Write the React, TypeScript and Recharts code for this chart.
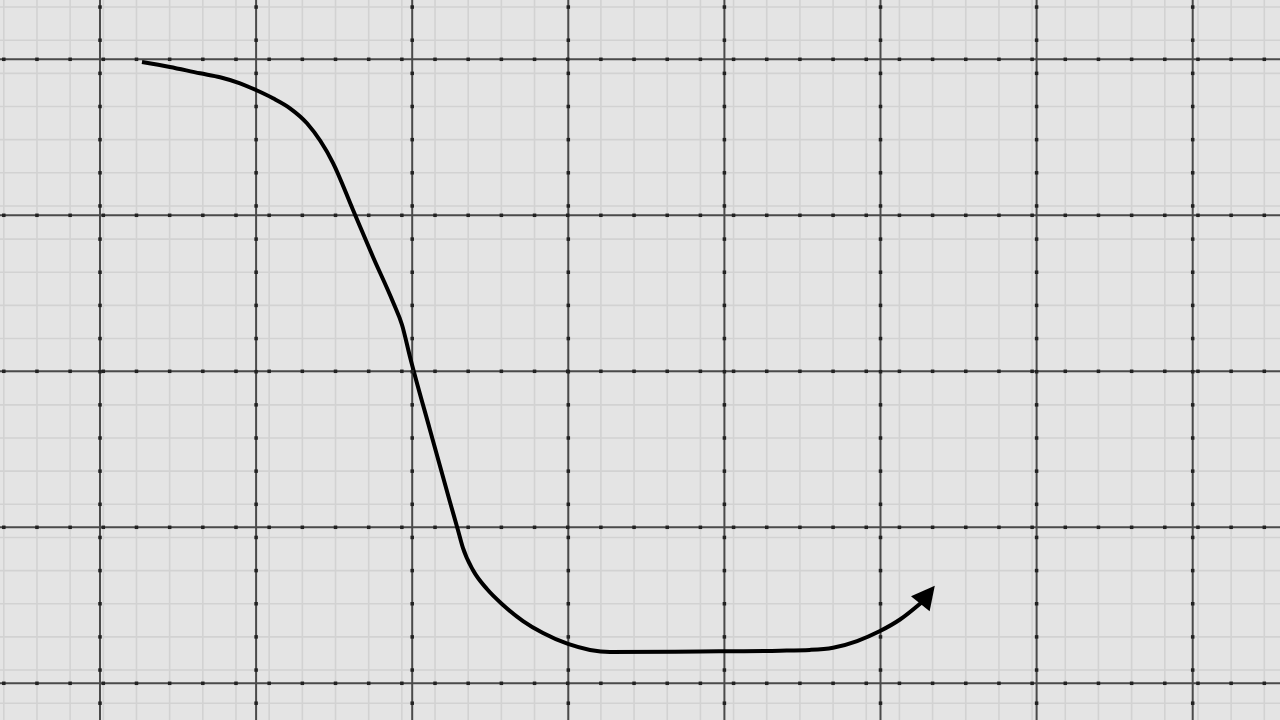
import React from 'react';
import { ComposedChart, Line, Scatter, XAxis, YAxis, ReferenceLine } from 'recharts';

// graph paper, in major-square units (x to the right, y upward)
const X_DOMAIN = [-0.6406, 7.5592];
const Y_DOMAIN = [-0.2353, 4.3801];

const majorX = [0, 1, 2, 3, 4, 5, 6, 7];
const majorY = [0, 1, 2, 3, 4];

// the fine grid has its own spacing and offset
const MINOR_STEP = 0.2125;
const minorX = Array.from({ length: 39 }, (_, i) => -0.6163 + i * MINOR_STEP);
const minorY = Array.from({ length: 22 }, (_, i) => -0.1276 + i * MINOR_STEP);

// the drawn curve
const curveX = [
  0.269, 0.448, 0.641, 0.769, 0.897, 0.999, 1.108, 1.217, 1.326, 1.493,
  1.621, 1.749, 1.877, 1.935, 1.986, 2.114, 2.242, 2.293, 2.325, 2.389, 2.479,
  2.582, 2.71, 2.838, 2.998, 3.139, 3.267, 3.844, 4.356, 4.548, 4.696, 4.85,
  4.997, 5.125, 5.259,
];
const curveY = [
  3.983, 3.951, 3.91, 3.885, 3.846, 3.803, 3.75, 3.686, 3.59, 3.335,
  3.034, 2.733, 2.444, 2.297, 2.092, 1.624, 1.162, 0.983, 0.868, 0.726, 0.604,
  0.502, 0.399, 0.322, 0.252, 0.214, 0.201, 0.204, 0.209, 0.214, 0.228, 0.271,
  0.335, 0.409, 0.515,
];

const curveData = curveX.map((x, i) => ({ x, y: curveY[i] }));

// little tick marks where fine lines cross the heavy ones
const tickDots = [
  ...majorX.flatMap((x) => minorY.map((y) => ({ x, y }))),
  ...minorX.flatMap((x) => majorY.map((y) => ({ x, y }))),
];

const ArrowDot = (props: any) => {
  const { cx, cy, index } = props;
  if (index !== curveData.length - 1) return <g key={`d${index}`} />;
  return (
    <polygon
      key="arrow"
      points="-1,-12 22,0 -1,12"
      fill="#000"
      transform={`translate(${cx},${cy}) rotate(-51)`}
    />
  );
};

const TickMark = (props: any) => (
  <rect x={props.cx - 1.75} y={props.cy - 1.75} width={3.5} height={3.5} fill="#222" />
);

const App = () => {
  return (
    <div style={{ position: 'absolute', left: 0, top: 0, width: 1280, height: 720, background: '#e4e4e4' }}>
      <ComposedChart width={1280} height={720} margin={{ top: 0, right: 0, bottom: 0, left: 0 }}>
        <XAxis type="number" dataKey="x" domain={X_DOMAIN} allowDataOverflow hide />
        <YAxis type="number" domain={Y_DOMAIN} allowDataOverflow hide width={0} />
        {minorX.map((v) => (
          <ReferenceLine key={`mx${v}`} x={v} stroke="#d2d2d2" strokeWidth={1.6} />
        ))}
        {minorY.map((v) => (
          <ReferenceLine key={`my${v}`} y={v} stroke="#d2d2d2" strokeWidth={1.6} />
        ))}
        {majorX.map((v) => (
          <ReferenceLine key={`Mx${v}`} x={v} stroke="#4a4a4a" strokeWidth={2} />
        ))}
        {majorY.map((v) => (
          <ReferenceLine key={`My${v}`} y={v} stroke="#4a4a4a" strokeWidth={2} />
        ))}
        <Scatter data={tickDots} dataKey="y" shape={TickMark} isAnimationActive={false} />
        <Line
          data={curveData}
          dataKey="y"
          type="monotone"
          stroke="#000"
          strokeWidth={4}
          dot={ArrowDot}
          activeDot={false}
          isAnimationActive={false}
        />
      </ComposedChart>
    </div>
  );
};

export default App;
